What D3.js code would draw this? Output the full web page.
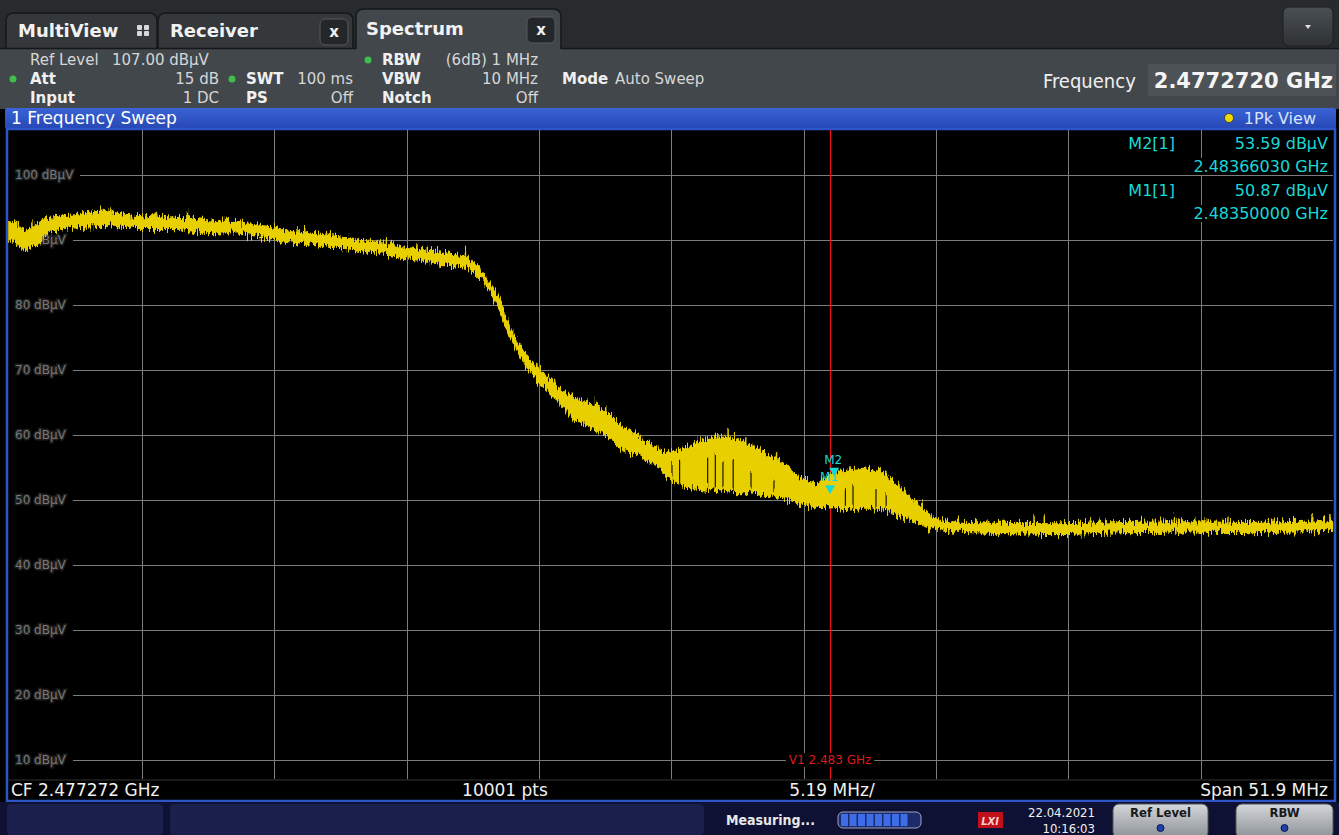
<!DOCTYPE html>
<html>
<head>
<meta charset="utf-8">
<script src="https://d3js.org/d3.v7.min.js"></script>
<style>
  body { margin: 0; background: #000; overflow: hidden; }
  svg { display: block; }
  text { font-family: "DejaVu Sans", sans-serif; }
  .cond { font-family: "DejaVu Sans Condensed", "DejaVu Sans", sans-serif; }
</style>
</head>
<body>
<div id="viz-container"></div>
<script>
let width = 1339;
let height = 835;

// ---- data ----
let startMHz = 2451.322;
let stopMHz = 2503.222;
let refLevel = 107;
let yTicks = [100, 90, 80, 70, 60, 50, 40, 30, 20, 10];

// trace envelope (MHz, dBuV)
let bandFreq = [2451.3, 2451.6, 2451.9, 2452.3, 2452.8, 2453.3, 2453.8, 2454.4, 2455.1, 2455.7,
  2456.4, 2457.0, 2457.7, 2458.3, 2459.0, 2459.7, 2460.3, 2461.0, 2461.6, 2462.2,
  2462.9, 2463.6, 2464.2, 2464.9, 2465.6, 2466.2, 2466.8, 2467.5, 2468.1, 2468.8,
  2469.2, 2469.5, 2469.9, 2470.3, 2470.6, 2470.8, 2471.2, 2471.6, 2472.1, 2472.8,
  2473.4, 2474.1, 2474.8, 2475.4, 2476.1, 2476.8, 2477.1, 2477.8, 2478.4, 2479.1,
  2479.7, 2480.4, 2481.0, 2481.7, 2482.3, 2483.0, 2483.6, 2484.3, 2484.9, 2485.6,
  2486.2, 2486.9, 2487.5, 2488.2, 2490.0, 2492.5, 2495.0, 2497.5, 2500.0, 2503.2];
let bandTop = [92.8, 92.5, 91.2, 92.2, 93.4, 93.7, 93.8, 94.2, 94.5, 94.0,
  93.7, 93.7, 93.5, 93.4, 93.1, 92.9, 92.8, 92.3, 92.0, 91.5,
  91.1, 90.8, 90.5, 90.0, 89.7, 89.4, 88.9, 88.5, 88.2, 87.8,
  87.7, 86.5, 84.9, 82.6, 80.3, 77.7, 74.6, 72.0, 70.0, 67.4,
  65.8, 64.9, 63.4, 61.1, 59.5, 57.7, 57.2, 58.0, 59.2, 59.7,
  59.5, 58.5, 57.2, 55.4, 53.5, 52.3, 54.2, 54.6, 54.9, 54.2,
  52.0, 49.5, 47.4, 46.6, 46.4, 46.3, 46.5, 46.6, 46.5, 46.8];
let bandLow = [90.0, 89.4, 88.5, 89.2, 91.1, 91.7, 92.0, 92.2, 92.3, 92.0,
  91.8, 91.8, 91.8, 91.5, 91.2, 91.1, 91.1, 90.6, 90.3, 89.8,
  89.5, 89.2, 88.9, 88.5, 88.2, 87.7, 87.2, 86.9, 86.5, 86.2,
  86.0, 85.1, 83.7, 81.1, 78.8, 76.2, 73.1, 70.5, 68.0, 65.4,
  62.8, 61.2, 59.7, 57.7, 56.6, 55.1, 53.5, 52.0, 51.8, 51.5,
  51.2, 51.1, 50.8, 50.3, 49.5, 48.9, 48.8, 48.5, 48.8, 48.5,
  47.7, 46.5, 45.5, 45.1, 44.9, 44.7, 45.0, 45.1, 45.0, 45.2];

// noise spikes above the envelope (MHz, dBuV)
let spikeFreq = [2452.2, 2452.8, 2453.2, 2454.2, 2455.0, 2455.3, 2457.1, 2458.3, 2459.4, 2460.6,
  2462.6, 2462.9, 2466.1, 2467.3, 2469.2, 2472.0, 2472.7, 2473.6, 2474.3, 2474.7,
  2475.3, 2475.9, 2476.1, 2477.2, 2479.1, 2479.5, 2480.2, 2480.5, 2481.4, 2481.6,
  2485.0, 2485.2, 2486.2, 2486.6, 2487.1, 2489.7, 2491.5, 2491.9, 2493.7, 2494.1,
  2497.0, 2497.8, 2499.1, 2502.4, 2503.1];
let spikeTop = [93.2, 93.5, 93.8, 94.3, 95.1, 94.9, 94.2, 94.5, 93.4, 92.8,
  92.0, 92.0, 90.3, 89.5, 88.5, 71.1, 68.5, 65.8, 65.4, 64.6,
  61.1, 60.3, 59.7, 57.2, 60.0, 60.8, 59.5, 58.9, 57.2, 55.7,
  54.9, 54.6, 52.8, 50.5, 50.0, 47.2, 47.7, 47.5, 47.2, 47.1,
  47.8, 47.4, 47.5, 47.7, 47.7];

// dark dropouts inside the band (MHz, dBuV where the gap starts)
let gapFreq = [2477.3, 2477.6, 2478.7, 2479.0, 2479.3, 2479.7, 2480.4, 2481.3, 2484.1, 2484.4, 2485.3, 2485.7];
let gapTop = [55.4, 56.2, 56.5, 57.0, 55.8, 56.5, 54.6, 53.1, 51.8, 52.3, 51.5, 51.2];

let markerNames = ['M1', 'M2'];
let markerFreq = [2483.5, 2483.6603];
let markerLevel = [50.87, 53.59];
let vLineFreq = 2483.5;

// ---- svg ----
let viz = d3.select('#viz-container')
  .append('svg')
  .attr('id', 'viz')
  .attr('width', width)
  .attr('height', height);

let defs = viz.append('defs');
let gBlue = defs.append('linearGradient').attr('id', 'blueBar').attr('x1', 0).attr('y1', 0).attr('x2', 0).attr('y2', 1);
gBlue.append('stop').attr('offset', '0%').attr('stop-color', '#3a63d6');
gBlue.append('stop').attr('offset', '100%').attr('stop-color', '#2647b4');
let gBtn = defs.append('linearGradient').attr('id', 'btn').attr('x1', 0).attr('y1', 0).attr('x2', 0).attr('y2', 1);
gBtn.append('stop').attr('offset', '0%').attr('stop-color', '#d4d7da');
gBtn.append('stop').attr('offset', '100%').attr('stop-color', '#8c9196');
let gDrop = defs.append('linearGradient').attr('id', 'drop').attr('x1', 0).attr('y1', 0).attr('x2', 0).attr('y2', 1);
gDrop.append('stop').attr('offset', '0%').attr('stop-color', '#4a4f53');
gDrop.append('stop').attr('offset', '100%').attr('stop-color', '#2e3235');

// ragged edge texture for the trace (render style only)
let rough = defs.append('filter').attr('id', 'rough')
  .attr('x', '-1%').attr('y', '-5%').attr('width', '102%').attr('height', '110%')
  .attr('color-interpolation-filters', 'sRGB');
rough.append('feTurbulence').attr('type', 'fractalNoise').attr('baseFrequency', '0.7 0.08')
  .attr('numOctaves', 2).attr('seed', 4).attr('result', 'n');
rough.append('feColorMatrix').attr('in', 'n').attr('type', 'matrix')
  .attr('values', '0 0 0 0 0.5  0 1 0 0 0  0 0 0 0 0  0 0 0 0 1').attr('result', 'm');
rough.append('feDisplacementMap').attr('in', 'SourceGraphic').attr('in2', 'm')
  .attr('scale', 16).attr('xChannelSelector', 'R').attr('yChannelSelector', 'G');

// tab bar
viz.append('rect').attr('x', 0).attr('y', 0).attr('width', width).attr('height', 50).attr('fill', '#282b2e');

function tabPath(x0, x1, y0, y1) {
  let r = 8;
  return 'M' + x0 + ',' + y1 + ' L' + x0 + ',' + (y0 + r) + ' Q' + x0 + ',' + y0 + ' ' + (x0 + r) + ',' + y0 +
    ' L' + (x1 - r) + ',' + y0 + ' Q' + x1 + ',' + y0 + ' ' + x1 + ',' + (y0 + r) + ' L' + x1 + ',' + y1;
}
viz.append('path').attr('d', tabPath(6, 157, 13, 50)).attr('fill', '#34383b').attr('stroke', '#15171a').attr('stroke-width', 1.5);
viz.append('path').attr('d', tabPath(158, 353, 13, 50)).attr('fill', '#34383b').attr('stroke', '#15171a').attr('stroke-width', 1.5);

// header panel
viz.append('rect').attr('x', 0).attr('y', 48).attr('width', width).attr('height', 61).attr('fill', '#42474b');
viz.append('path').attr('d', tabPath(356, 561, 9, 49)).attr('fill', '#42474b').attr('stroke', '#15171a').attr('stroke-width', 1.5);
viz.append('rect').attr('x', 357).attr('y', 45).attr('width', 203).attr('height', 6).attr('fill', '#42474b');
viz.append('line').attr('x1', 0).attr('x2', 356).attr('y1', 48.5).attr('y2', 48.5).attr('stroke', '#15171a').attr('stroke-width', 1.5);
viz.append('line').attr('x1', 561).attr('x2', width).attr('y1', 48.5).attr('y2', 48.5).attr('stroke', '#15171a').attr('stroke-width', 1.5);

viz.append('text').text('MultiView').attr('x', 18).attr('y', 37).attr('font-size', 18).attr('font-weight', 'bold').attr('fill', '#f2f2f2');
[[137, 25], [144, 25], [137, 31], [144, 31]].forEach(function(p) {
  viz.append('rect').attr('x', p[0]).attr('y', p[1]).attr('width', 5).attr('height', 5).attr('rx', 1).attr('fill', '#d8d8d8');
});
viz.append('text').text('Receiver').attr('x', 170).attr('y', 37).attr('font-size', 18).attr('font-weight', 'bold').attr('fill', '#f2f2f2');
viz.append('text').text('Spectrum').attr('x', 366).attr('y', 35).attr('font-size', 18).attr('font-weight', 'bold').attr('fill', '#f2f2f2');

[[320, 19], [527, 17]].forEach(function(p) {
  viz.append('rect').attr('x', p[0]).attr('y', p[1]).attr('width', 28).attr('height', 26).attr('rx', 5)
    .attr('fill', '#24272a').attr('stroke', '#55595d');
  viz.append('text').text('x').attr('x', p[0] + 14).attr('y', p[1] + 18).attr('text-anchor', 'middle')
    .attr('font-size', 15).attr('font-weight', 'bold').attr('fill', '#f0f0f0');
});

viz.append('rect').attr('x', 1283).attr('y', 7).attr('width', 50).attr('height', 39).attr('rx', 6)
  .attr('fill', 'url(#drop)').attr('stroke', '#1c1e20');
viz.append('path').attr('d', 'M1305,25 L1311,25 L1308,29 Z').attr('fill', '#e0e0e0');

// header settings text
let hdr = viz.append('g').attr('font-size', 15);
function hText(t, x, y, bold, anchor) {
  hdr.append('text').text(t).attr('x', x).attr('y', y)
    .attr('font-weight', bold ? 'bold' : 'normal')
    .attr('text-anchor', anchor || 'start')
    .attr('fill', bold ? '#f0f0f0' : '#d6d6d6');
}
hText('Ref Level', 30, 65, false);
hText('107.00 dBµV', 112, 65, false);
hText('Att', 30, 84, true);
hText('15 dB', 219, 84, false, 'end');
hText('Input', 30, 103, true);
hText('1 DC', 219, 103, false, 'end');
hText('SWT', 246, 84, true);
hText('100 ms', 353, 84, false, 'end');
hText('PS', 246, 103, true);
hText('Off', 353, 103, false, 'end');
hText('RBW', 382, 65, true);
hText('(6dB) 1 MHz', 538, 65, false, 'end');
hText('VBW', 382, 84, true);
hText('10 MHz', 538, 84, false, 'end');
hText('Notch', 382, 103, true);
hText('Off', 538, 103, false, 'end');
hText('Mode', 562, 84, true);
hText('Auto Sweep', 615, 84, false);
[[13, 79], [232, 79], [368, 60]].forEach(function(p) {
  viz.append('circle').attr('cx', p[0]).attr('cy', p[1]).attr('r', 3.5).attr('fill', '#3fbf4a');
});

viz.append('text').attr('class', 'cond').text('Frequency').attr('x', 1043).attr('y', 88).attr('font-size', 20).attr('fill', '#f0f0f0');
viz.append('rect').attr('x', 1148).attr('y', 64).attr('width', 188).attr('height', 32).attr('fill', '#4d5256');
viz.append('text').text('2.4772720 GHz').attr('x', 1333).attr('y', 88).attr('text-anchor', 'end')
  .attr('font-size', 21).attr('font-weight', 'bold').attr('fill', '#f4f4f4');

// window title bar
viz.append('rect').attr('x', 5).attr('y', 108).attr('width', 1331).attr('height', 21).attr('rx', 2).attr('fill', 'url(#blueBar)');
viz.append('text').text('1 Frequency Sweep').attr('x', 11).attr('y', 124).attr('font-size', 17).attr('fill', '#ffffff');
viz.append('circle').attr('cx', 1229).attr('cy', 118).attr('r', 4.5).attr('fill', '#f0d800').attr('stroke', '#333').attr('stroke-width', 0.8);
viz.append('text').text('1Pk View').attr('x', 1316).attr('y', 124).attr('text-anchor', 'end').attr('font-size', 16).attr('fill', '#d8e2ff');

// plot frame
viz.append('rect').attr('x', 7).attr('y', 129).attr('width', 1328).attr('height', 672).attr('fill', '#000')
  .attr('stroke', '#2d55c8').attr('stroke-width', 2.5);
viz.append('rect').attr('x', 8.5).attr('y', 779.5).attr('width', 1325).attr('height', 1).attr('fill', '#333');

// scales
let x = d3.scaleLinear().domain([startMHz, stopMHz]).range([9.5, 1333]);
let y = d3.scaleLinear().domain([refLevel - 100, refLevel]).range([779.5, 129.5]);

// grid
let plot = viz.append('g');
let divs = d3.range(1, 10).map(function(i) { return startMHz + i * (stopMHz - startMHz) / 10; });
plot.selectAll('.vgrid').data(divs).enter()
  .append('line')
  .attr('class', 'vgrid')
  .attr('x1', function(d) { return Math.round(x(d)) + 0.5; })
  .attr('x2', function(d) { return Math.round(x(d)) + 0.5; })
  .attr('y1', 130).attr('y2', 779)
  .attr('stroke', '#7c7c7c').attr('stroke-width', 1);

plot.selectAll('.ylab').data(yTicks).enter()
  .append('text')
  .attr('class', 'ylab')
  .text(function(d) { return d + ' dBµV'; })
  .attr('x', 15)
  .attr('y', function(d) { return y(d) + 4; })
  .attr('font-size', 12)
  .attr('fill', '#777')
  .attr('stroke', '#1e1e1e').attr('stroke-width', 3).attr('paint-order', 'stroke');

plot.selectAll('.hgrid').data(yTicks).enter()
  .append('line')
  .attr('class', 'hgrid')
  .attr('x1', function(d) { return d >= 100 ? 80 : 73; })
  .attr('x2', 1333)
  .attr('y1', function(d) { return Math.round(y(d)) + 0.5; })
  .attr('y2', function(d) { return Math.round(y(d)) + 0.5; })
  .attr('stroke', '#7c7c7c').attr('stroke-width', 1);

// display line V1
plot.append('line')
  .attr('x1', Math.round(x(vLineFreq)) + 0.5).attr('x2', Math.round(x(vLineFreq)) + 0.5)
  .attr('y1', 130).attr('y2', 779)
  .attr('stroke', '#ee1111').attr('stroke-width', 1.2);
let vLab = plot.append('text').text('V1 2.483 GHz')
  .attr('x', x(vLineFreq)).attr('y', y(10) + 4)
  .attr('text-anchor', 'middle').attr('font-size', 12)
  .attr('fill', '#dd1a1a');
let vb = vLab.node().getBBox();
plot.insert('rect', function() { return vLab.node(); })
  .attr('x', vb.x - 3).attr('y', vb.y).attr('width', vb.width + 6).attr('height', vb.height).attr('fill', '#000');

// trace
let band = bandFreq.map(function(f, i) { return {f: f, hi: bandTop[i], lo: bandLow[i]}; });
let area = d3.area()
  .x(function(d) { return x(d.f); })
  .y0(function(d) { return y(d.lo); })
  .y1(function(d) { return y(d.hi); });
let trace = plot.append('g').attr('filter', 'url(#rough)');
trace.append('path')
  .datum(band)
  .attr('d', area)
  .attr('fill', '#e8d000')
  .attr('stroke', '#e8d000')
  .attr('stroke-width', 1.5);

let bis = d3.bisector(function(d) { return d.f; }).center;
trace.selectAll('.spike').data(spikeFreq).enter()
  .append('line')
  .attr('class', 'spike')
  .attr('x1', function(d) { return x(d); })
  .attr('x2', function(d) { return x(d); })
  .attr('y1', function(d, i) { return y(spikeTop[i]); })
  .attr('y2', function(d) { return y(band[bis(band, d)].lo); })
  .attr('stroke', '#e8d000')
  .attr('stroke-width', 1.5);

trace.selectAll('.gap').data(gapFreq).enter()
  .append('line')
  .attr('class', 'gap')
  .attr('x1', function(d) { return x(d); })
  .attr('x2', function(d) { return x(d); })
  .attr('y1', function(d, i) { return y(gapTop[i]); })
  .attr('y2', function(d) { return y(band[bis(band, d)].lo) - 3; })
  .attr('stroke', '#1a1600')
  .attr('stroke-width', 1.2);

// markers
let tri = function(cx, cy) {
  return 'M' + (cx - 5) + ',' + (cy - 9) + ' L' + (cx + 5) + ',' + (cy - 9) + ' L' + cx + ',' + cy + ' Z';
};
markerNames.forEach(function(m, i) {
  let cx = x(markerFreq[i]);
  let cy = y(markerLevel[i]);
  plot.append('text').text(m).attr('x', cx - 1).attr('y', cy - 13)
    .attr('text-anchor', 'middle').attr('font-size', 12).attr('fill', '#19d8d8');
});
markerNames.forEach(function(m, i) {
  plot.append('path').attr('d', tri(x(markerFreq[i]), y(markerLevel[i]))).attr('fill', '#19d8d8');
});

// marker table
let table = viz.append('g').attr('font-size', 16).attr('fill', '#19d8d8');
let rowY = [149, 172, 196, 219];
let rows = [];
markerNames.slice().reverse().forEach(function(m, k) {
  let i = markerNames.length - 1 - k;
  rows.push({t: m + '[1]', x: 1175, y: rowY[k * 2]});
  rows.push({t: markerLevel[i].toFixed(2) + ' dBµV', x: 1328, y: rowY[k * 2]});
  rows.push({t: (markerFreq[i] / 1000).toFixed(8) + ' GHz', x: 1328, y: rowY[k * 2 + 1]});
});
rows.forEach(function(r) {
  let t = table.append('text').text(r.t).attr('x', r.x).attr('y', r.y).attr('text-anchor', 'end');
  let b = t.node().getBBox();
  table.insert('rect', 'text').attr('x', b.x - 1).attr('y', b.y + 1).attr('width', b.width + 2).attr('height', b.height - 2).attr('fill', '#000');
});

// bottom info line
let info = viz.append('g').attr('font-size', 17).attr('fill', '#f0f0f0');
info.append('text').text('CF 2.477272 GHz').attr('x', 11).attr('y', 796);
info.append('text').text('10001 pts').attr('x', 505).attr('y', 796).attr('text-anchor', 'middle');
info.append('text').text('5.19 MHz/').attr('x', 832).attr('y', 796).attr('text-anchor', 'middle');
info.append('text').text('Span 51.9 MHz').attr('x', 1328).attr('y', 796).attr('text-anchor', 'end');

// status bar
viz.append('rect').attr('x', 0).attr('y', 802).attr('width', width).attr('height', 33).attr('fill', '#0e1133');
viz.append('rect').attr('x', 7).attr('y', 804).attr('width', 156).attr('height', 31).attr('rx', 4).attr('fill', '#1a1f4c');
viz.append('rect').attr('x', 170).attr('y', 804).attr('width', 534).attr('height', 31).attr('rx', 4).attr('fill', '#1a1f4c');
viz.append('text').attr('class', 'cond').text('Measuring...').attr('x', 726).attr('y', 825).attr('font-size', 14).attr('font-weight', 'bold').attr('fill', '#e8e8e8');
viz.append('rect').attr('x', 838).attr('y', 812).attr('width', 83).attr('height', 16).attr('rx', 5)
  .attr('fill', '#1d2a6a').attr('stroke', '#9aa6c8').attr('stroke-width', 1);
d3.range(8).forEach(function(i) {
  viz.append('rect').attr('x', 841 + i * 8.5).attr('y', 814).attr('width', 7).attr('height', 12).attr('fill', '#3d6ee8');
});
viz.append('rect').attr('x', 978).attr('y', 812).attr('width', 25).attr('height', 16).attr('fill', '#c0101a');
viz.append('text').attr('class', 'cond').text('LXI').attr('x', 990).attr('y', 825).attr('text-anchor', 'middle').attr('font-size', 11)
  .attr('font-style', 'italic').attr('font-weight', 'bold').attr('fill', '#ffd0d0');
viz.append('text').attr('class', 'cond').text('22.04.2021').attr('x', 1095).attr('y', 817).attr('text-anchor', 'end').attr('font-size', 13).attr('fill', '#f0f0f0');
viz.append('text').attr('class', 'cond').text('10:16:03').attr('x', 1095).attr('y', 833).attr('text-anchor', 'end').attr('font-size', 13).attr('fill', '#f0f0f0');

[['Ref Level', 1113, 95], ['RBW', 1236, 97]].forEach(function(b) {
  viz.append('rect').attr('x', b[1]).attr('y', 804).attr('width', b[2]).attr('height', 34).attr('rx', 6)
    .attr('fill', 'url(#btn)').attr('stroke', '#555').attr('stroke-width', 1);
  viz.append('text').attr('class', 'cond').text(b[0]).attr('x', b[1] + b[2] / 2).attr('y', 817).attr('text-anchor', 'middle')
    .attr('font-size', 13).attr('font-weight', 'bold').attr('fill', '#1a1a1a');
  viz.append('circle').attr('cx', b[1] + b[2] / 2).attr('cy', 828).attr('r', 3.5).attr('fill', '#1c3fa8').attr('stroke', '#0c1a50');
});
</script>
</body>
</html>
